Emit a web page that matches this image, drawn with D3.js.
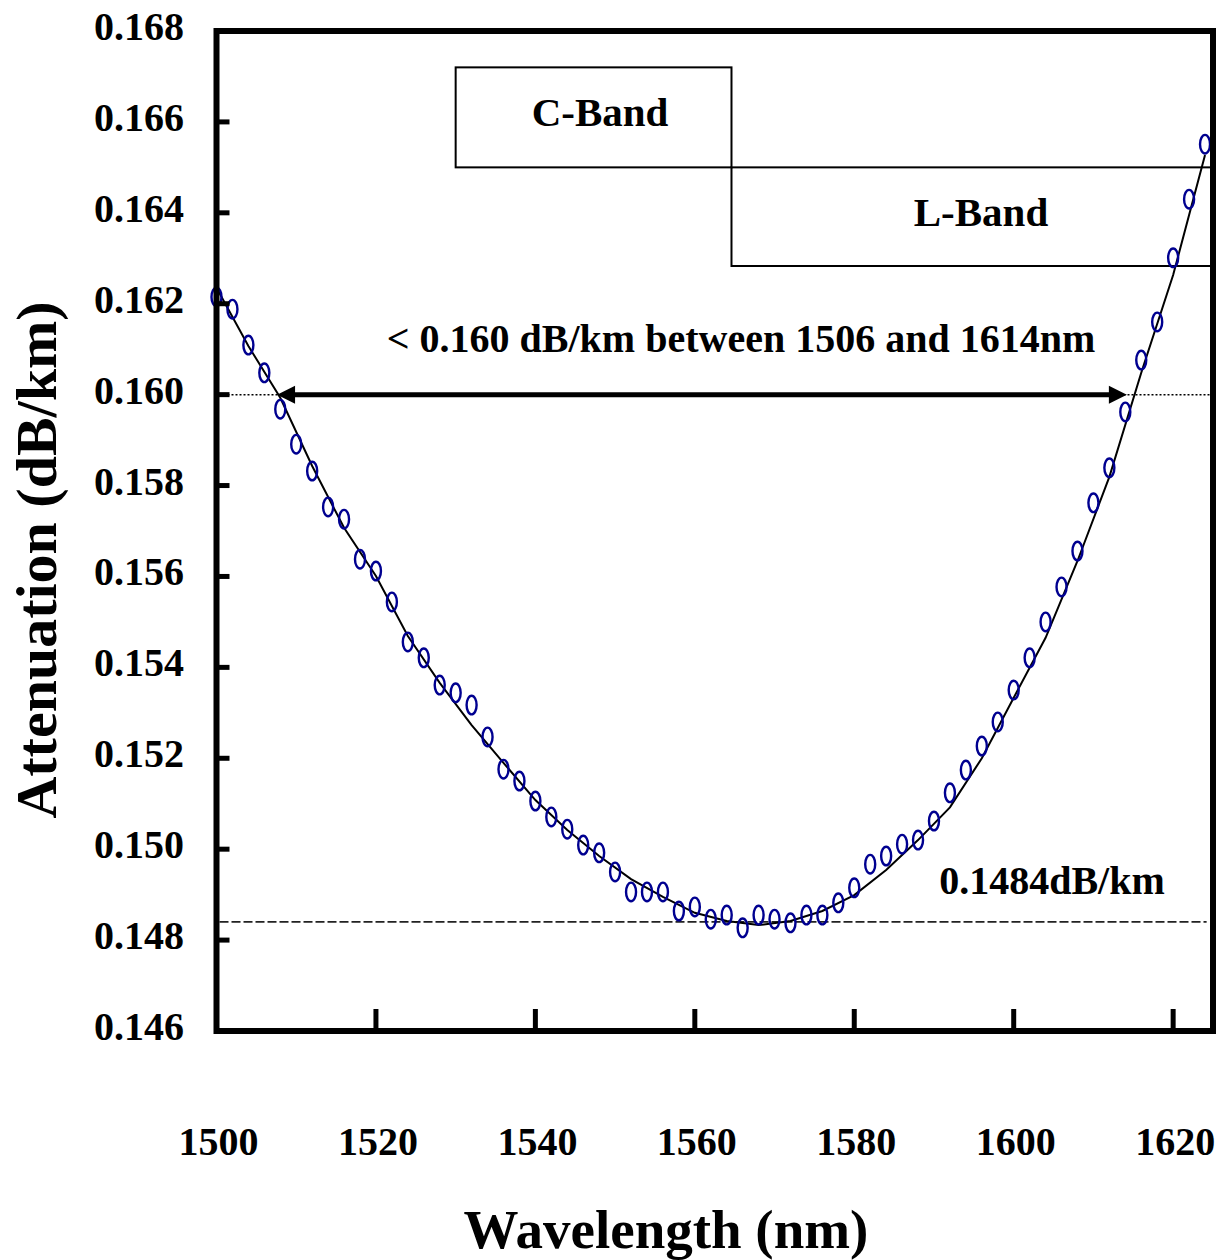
<!DOCTYPE html>
<html>
<head>
<meta charset="utf-8">
<script src="https://cdn.jsdelivr.net/npm/d3@7"></script>
<style>
  html, body { margin: 0; padding: 0; background: #fff; }
  svg { display: block; font-family: "Liberation Serif", "Times New Roman", serif; font-weight: bold; }
</style>
</head>
<body>
<svg id="chart" width="1229" height="1260"></svg>
<script>
// ---- data ----
const wavelengths = [1500,1502,1504,1506,1508,1510,1512,1514,1516,1518,1520,1522,1524,1526,1528,1530,1532,1534,1536,1538,1540,1542,1544,1546,1548,1550,1552,1554,1556,1558,1560,1562,1564,1566,1568,1570,1572,1574,1576,1578,1580,1582,1584,1586,1588,1590,1592,1594,1596,1598,1600,1602,1604,1606,1608,1610,1612,1614,1616,1618,1620,1622,1624];
const attenuation = [0.16215,0.16188,0.16109,0.16048,0.15968,0.15891,0.15832,0.15753,0.15726,0.15638,0.15612,0.15544,0.15456,0.15421,0.15361,0.15344,0.15317,0.15247,0.15176,0.15150,0.15106,0.15071,0.15044,0.15009,0.14992,0.14950,0.14906,0.14906,0.14906,0.14864,0.14873,0.14846,0.14855,0.14827,0.14855,0.14846,0.14838,0.14855,0.14855,0.14882,0.14915,0.14967,0.14985,0.15011,0.15020,0.15062,0.15124,0.15174,0.15227,0.15280,0.15350,0.15421,0.15500,0.15577,0.15656,0.15762,0.15839,0.15962,0.16076,0.16160,0.16301,0.16430,0.16551];
const fitWavelengths = [1500,1504,1508,1512,1516,1520,1524,1528,1532,1536,1540,1544,1548,1552,1556,1560,1564,1568,1572,1576,1580,1584,1588,1592,1596,1600,1604,1608,1612,1616,1620,1624];
const fitValues = [0.16235,0.16107,0.15993,0.15843,0.15707,0.15601,0.15469,0.15366,0.15273,0.15190,0.15108,0.15042,0.14985,0.14934,0.14895,0.14860,0.14842,0.14833,0.14842,0.14864,0.14899,0.14954,0.15020,0.15092,0.15200,0.15333,0.15465,0.15634,0.15819,0.16048,0.16263,0.16527];
const xTicks = [1500,1520,1540,1560,1580,1600,1620];
const yTicks = [0.146,0.148,0.150,0.152,0.154,0.156,0.158,0.160,0.162,0.164,0.166,0.168];
const xDomain = [1500, 1625];
const yDomain = [0.146, 0.168];
const minLevel = 0.1484;
const limitLevel = 0.160;
const rangeStart = 1507.6, rangeEnd = 1614.2;
const bands = [
  {name: "C-Band", start: 1530, end: 1564.6, top: 0.1672, bottom: 0.1650},
  {name: "L-Band", start: 1564.6, end: 1625, top: 0.1650, bottom: 0.16283}
];
const xTitle = "Wavelength (nm)";
const yTitle = "Attenuation (dB/km)";
const rangeLabel = "< 0.160 dB/km between 1506 and 1614nm";
const minLabel = "0.1484dB/km";

// ---- layout ----
const L = 216.5, R = 1213, T = 31, B = 1031;
const svg = d3.select("#chart");
const x = d3.scaleLinear().domain(xDomain).range([L, R]);
const y = d3.scaleLinear().domain(yDomain).range([B, T]);

// reference lines
svg.append("line")
  .attr("x1", L + 3).attr("x2", R - 3)
  .attr("y1", y(limitLevel)).attr("y2", y(limitLevel))
  .attr("stroke", "#000").attr("stroke-width", 1.5).attr("stroke-dasharray", "2,2");
svg.append("line")
  .attr("x1", L + 3).attr("x2", x(1624.2))
  .attr("y1", y(minLevel)).attr("y2", y(minLevel))
  .attr("stroke", "#222").attr("stroke-width", 1.6).attr("stroke-dasharray", "9,3");

// band boxes
bands.forEach(b => {
  svg.append("rect")
    .attr("x", x(b.start)).attr("y", y(b.top))
    .attr("width", x(b.end) - x(b.start)).attr("height", y(b.bottom) - y(b.top))
    .attr("fill", "none").attr("stroke", "#000").attr("stroke-width", 2);
});
svg.append("text").attr("x", 600).attr("y", 126)
  .attr("text-anchor", "middle").attr("font-size", 41).text(bands[0].name);
svg.append("text").attr("x", 981).attr("y", 226)
  .attr("text-anchor", "middle").attr("font-size", 41).text(bands[1].name);

// fit line
const line = d3.line().x((d, i) => x(fitWavelengths[i])).y(d => y(d));
svg.append("path").datum(fitValues)
  .attr("d", line).attr("fill", "none").attr("stroke", "#000").attr("stroke-width", 2);

// data markers
svg.append("g").selectAll("ellipse").data(attenuation).join("ellipse")
  .attr("cx", (d, i) => x(wavelengths[i])).attr("cy", d => y(d))
  .attr("rx", 5).attr("ry", 9.3)
  .attr("fill", "none").attr("stroke", "#000090").attr("stroke-width", 2.4);

// double arrow
const ay = y(limitLevel), ax1 = x(rangeStart), ax2 = x(rangeEnd);
const hl = 18, hw = 9;
svg.append("line").attr("x1", ax1 + hl - 2).attr("x2", ax2 - hl + 2).attr("y1", ay).attr("y2", ay)
  .attr("stroke", "#000").attr("stroke-width", 5);
svg.append("path").attr("d", `M${ax1},${ay} L${ax1 + hl},${ay - hw} L${ax1 + hl},${ay + hw} Z`).attr("fill", "#000");
svg.append("path").attr("d", `M${ax2},${ay} L${ax2 - hl},${ay - hw} L${ax2 - hl},${ay + hw} Z`).attr("fill", "#000");

svg.append("text").attr("x", 741).attr("y", 352).attr("text-anchor", "middle")
  .attr("font-size", 40).text(rangeLabel);
svg.append("text").attr("x", 1052).attr("y", 894).attr("text-anchor", "middle")
  .attr("font-size", 40).text(minLabel);

// ticks (inward)
svg.append("g").selectAll("line").data(yTicks.slice(1, -1)).join("line")
  .attr("x1", L).attr("x2", L + 13).attr("y1", d => y(d)).attr("y2", d => y(d))
  .attr("stroke", "#000").attr("stroke-width", 5);
svg.append("g").selectAll("line").data(xTicks.slice(1)).join("line")
  .attr("x1", d => x(d)).attr("x2", d => x(d)).attr("y1", B).attr("y2", B - 22)
  .attr("stroke", "#000").attr("stroke-width", 5);

// frame
svg.append("rect").attr("x", L).attr("y", T).attr("width", R - L).attr("height", B - T)
  .attr("fill", "none").attr("stroke", "#000").attr("stroke-width", 6);

// tick labels
svg.append("g").selectAll("text").data(yTicks).join("text")
  .attr("x", 184).attr("y", d => y(d) + 9).attr("text-anchor", "end")
  .attr("font-size", 40).text(d => d3.format(".3f")(d));
svg.append("g").selectAll("text").data(xTicks).join("text")
  .attr("x", d => x(d) + 2).attr("y", 1155).attr("text-anchor", "middle")
  .attr("font-size", 40).text(d => d);

// axis titles
svg.append("text").attr("x", 666).attr("y", 1248).attr("text-anchor", "middle")
  .attr("font-size", 55).text(xTitle);
svg.append("text").attr("transform", "translate(56,560) rotate(-90)")
  .attr("text-anchor", "middle").attr("font-size", 58).text(yTitle);
</script>
</body>
</html>
